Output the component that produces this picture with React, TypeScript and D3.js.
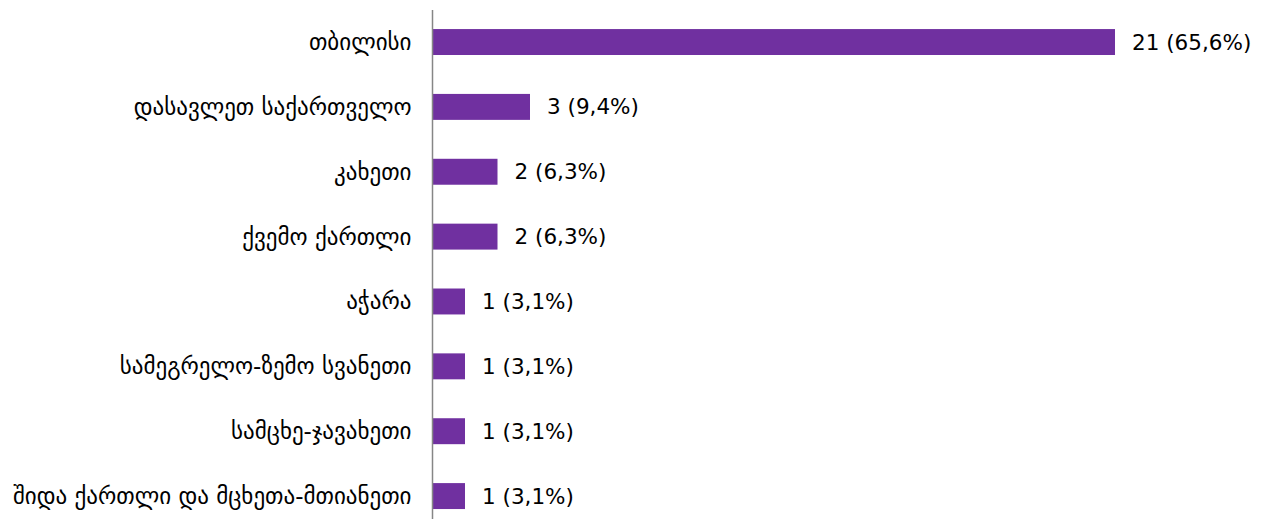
import React from "react";
import * as d3 from "d3";

const regions: string[] = [
  "თბილისი",
  "დასავლეთ საქართველო",
  "კახეთი",
  "ქვემო ქართლი",
  "აჭარა",
  "სამეგრელო-ზემო სვანეთი",
  "სამცხე-ჯავახეთი",
  "შიდა ქართლი და მცხეთა-მთიანეთი",
];
const counts: number[] = [21, 3, 2, 2, 1, 1, 1, 1];
const shares: string[] = ["65,6%", "9,4%", "6,3%", "6,3%", "3,1%", "3,1%", "3,1%", "3,1%"];

const W = 1261;
const H = 519;
const axisX = 432.5;

export default function App() {
  const x = d3.scaleLinear().domain([0, 21]).range([axisX, 1115]);
  const y = d3
    .scaleBand<string>()
    .domain(regions)
    .range([9.6, 528.5])
    .paddingInner(0.6)
    .paddingOuter(0.3);
  return (
    <svg
      width={W}
      height={H}
      style={{ position: "absolute", left: 0, top: 0, background: "#fff" }}
    >
      {regions.map((r, i) => {
        const yc = (y(r) as number) + y.bandwidth() / 2;
        return (
          <g key={r}>
            <rect
              x={axisX}
              y={y(r)}
              width={x(counts[i]) - axisX}
              height={y.bandwidth()}
              fill="#7030A0"
            />
            <text
              x={axisX - 21}
              y={yc}
              textAnchor="end"
              dominantBaseline="central"
              fontFamily="'DejaVu Sans', sans-serif"
              fontSize={23}
              fill="#000"
            >
              {r}
            </text>
            <text
              x={x(counts[i]) + 17}
              y={yc}
              dominantBaseline="central"
              fontFamily="'DejaVu Sans', sans-serif"
              fontSize={21.5}
              fill="#000"
            >
              {`${counts[i]} (${shares[i]})`}
            </text>
          </g>
        );
      })}
      <line x1={axisX} x2={axisX} y1={10} y2={H} stroke="#868686" strokeWidth={1.5} />
    </svg>
  );
}
